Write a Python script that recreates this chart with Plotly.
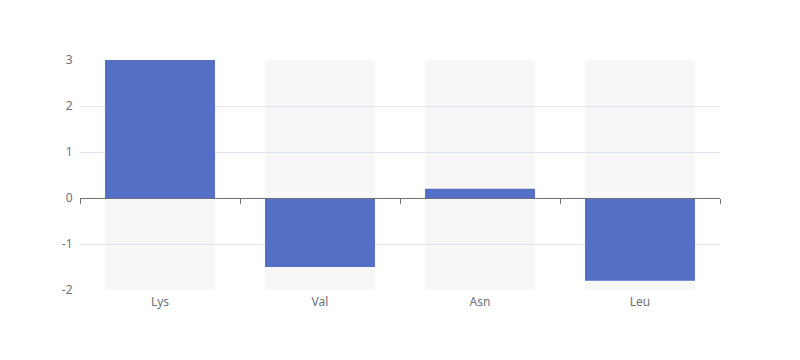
import plotly.graph_objects as go

categories = ["Lys", "Val", "Asn", "Leu"]
values = [3, -1.5, 0.2, -1.8]
y_min, y_max = -2, 3
y_ticks = [-2, -1, 0, 1, 2, 3]
y_tick_labels = ["-2", "-1", "0", "1", "2", "3"]

bar_color = "#5470c6"
bg_color = "rgba(180,180,180,0.1)"
axis_color = "#6e7079"
grid_color = "#e0e6f1"
font_family = "Noto Sans, DejaVu Sans, sans-serif"

fig = go.Figure()
fig.add_trace(go.Bar(
    x=categories, y=[y_max - y_min] * len(categories), base=[y_min] * len(categories),
    marker=dict(color=bg_color, line=dict(width=0)), hoverinfo="skip", showlegend=False,
))
fig.add_trace(go.Bar(
    x=categories, y=values,
    marker=dict(color=bar_color, line=dict(width=0)), showlegend=False,
))
# invisible trace to host the zero-anchored axis with boundary ticks
fig.add_trace(go.Scatter(x=categories, y=[0] * len(categories), xaxis="x2",
                         mode="markers", marker=dict(opacity=0), hoverinfo="skip", showlegend=False))

fig.update_layout(
    width=800, height=360,
    margin=dict(l=72, r=88, t=52, b=78),
    paper_bgcolor="white", plot_bgcolor="white",
    barmode="overlay", bargap=0.3125,
    font=dict(family=font_family, size=12, color=axis_color),
    xaxis=dict(type="category", categoryarray=categories, range=[-0.5, 3.5],
               showgrid=False, showline=False, zeroline=False,
               ticks="outside", ticklen=1, tickcolor="rgba(0,0,0,0)",
               tickfont=dict(size=12, color=axis_color)),
    xaxis2=dict(type="category", categoryarray=categories, range=[-0.5, 3.5],
                overlaying="x", anchor="free", position=(0 - y_min) / (y_max - y_min),
                showgrid=False, showline=True, linecolor=axis_color, linewidth=1,
                ticks="outside", tickson="boundaries", ticklen=5, tickcolor=axis_color,
                showticklabels=False, zeroline=False),
    yaxis=dict(range=[y_min, y_max], tickvals=y_ticks, ticktext=y_tick_labels,
               showgrid=True, gridcolor=grid_color,
               gridwidth=1, zeroline=False, showline=False, ticks="outside", ticklen=4,
               tickcolor="rgba(0,0,0,0)", tickfont=dict(size=12, color=axis_color)),
)

fig.write_html("out.html")
